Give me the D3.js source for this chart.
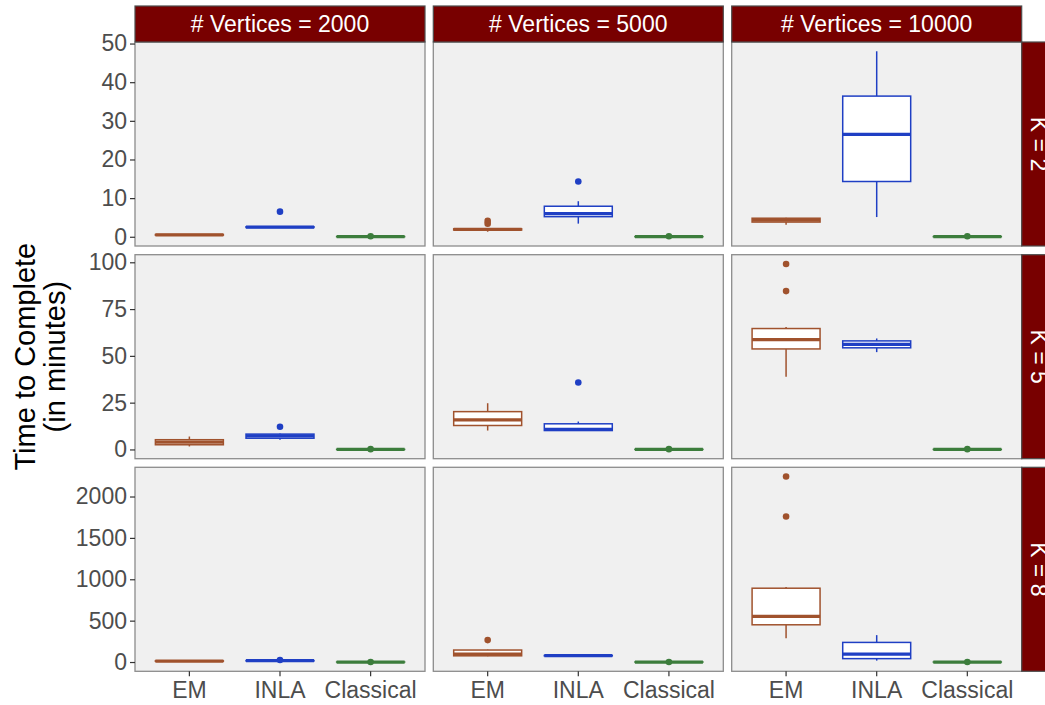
<!DOCTYPE html>
<html>
<head>
<meta charset="utf-8">
<script src="https://cdn.jsdelivr.net/npm/d3@7"></script>
<style>
  html, body { margin: 0; padding: 0; background: #ffffff; }
  svg { display: block; font-family: "Liberation Sans", Arial, Helvetica, sans-serif; }
</style>
</head>
<body>
<svg id="chart" width="1045" height="705"></svg>
<script>
// Facet definitions
const vertexCounts = [2000, 5000, 10000];
const kValues = [2, 5, 8];
const methods = ["EM", "INLA", "Classical"];
const methodColors = ["#A0522D", "#1F3FC4", "#3C7D3C"];

// Y tick values, one list per K row
const yTicksK2 = [0, 10, 20, 30, 40, 50];
const yTicksK5 = [0, 25, 50, 75, 100];
const yTicksK8 = [0, 500, 1000, 1500, 2000];

// Box statistics in minutes: [lower whisker, Q1, median, Q3, upper whisker]
// indexed [K row][vertex column]
const emBoxes = [
  [[0.35, 0.42, 0.5, 0.58, 0.65], [1.3, 1.75, 1.9, 2.05, 2.2], [3.1, 3.8, 4.3, 4.8, 4.9]],
  [[1.6, 2.5, 3.9, 5.2, 6.9], [10.1, 12.8, 15.8, 20.2, 24.7], [38.8, 53.7, 58.7, 64.6, 65.4]],
  [[8, 10, 12, 14, 16], [70, 75, 95, 145, 150], [286, 450, 551, 892, 908]]
];
const inlaBoxes = [
  [[2.3, 2.4, 2.5, 2.6, 2.7], [3.4, 5.2, 6.0, 7.9, 9.2], [5.1, 14.3, 26.5, 36.4, 48.0]],
  [[5.2, 6.0, 7.3, 8.2, 8.5], [10.0, 10.1, 10.8, 13.7, 14.9], [52.0, 54.3, 56.1, 58.0, 59.3]],
  [[12, 14, 16, 18, 19], [73, 75, 77, 79, 81], [17, 41, 96, 237, 325]]
];
const classicalBoxes = [
  [[0.01, 0.02, 0.03, 0.04, 0.05], [0.01, 0.02, 0.03, 0.04, 0.05], [0.01, 0.02, 0.03, 0.04, 0.05]],
  [[0.01, 0.02, 0.03, 0.04, 0.05], [0.01, 0.02, 0.03, 0.04, 0.05], [0.01, 0.02, 0.03, 0.04, 0.05]],
  [[0.01, 0.02, 0.03, 0.04, 0.05], [0.01, 0.02, 0.03, 0.04, 0.05], [0.01, 0.02, 0.03, 0.04, 0.05]]
];

// Outlying runs, indexed [K row][vertex column]
const emOutliers = [
  [[], [4.1, 3.4], []],
  [[], [], [99.1, 84.6]],
  [[], [265], [2241, 1759]]
];
const inlaOutliers = [
  [[6.5], [14.3], []],
  [[12.1], [35.8], []],
  [[24], [], []]
];
const classicalOutliers = [
  [[0.15], [0.15], [0.15]],
  [[0.15], [0.15], [0.15]],
  [[0.15], [0.15], [0.15]]
];

const yTicksByRow = [yTicksK2, yTicksK5, yTicksK8];
const boxesByMethod = [emBoxes, inlaBoxes, classicalBoxes];
const outliersByMethod = [emOutliers, inlaOutliers, classicalOutliers];

// Layout
const panelLefts = [135, 433.3, 731.7];
const panelWidth = 290;
const panelTops = [42, 254.7, 467.3];
const panelHeight = 204;
const stripHeight = 36;
const stripWidth = 36;
const tickFont = 23;

const svg = d3.select("#chart");

// Discrete x positions: categories 1..3 with 0.6 units of padding on each side
const x = d3.scaleLinear().domain([0.4, 3.6]).range([0, panelWidth]);
const xPos = m => x(methods.indexOf(m) + 1);
const boxWidth = x(1.75) - x(1);

kValues.forEach((k, r) => {
  // Row-wise free y scale with 5% padding on each side of the data range
  const vals = [];
  methods.forEach((m, mi) => {
    vertexCounts.forEach((v, c) => {
      vals.push(...boxesByMethod[mi][r][c], ...outliersByMethod[mi][r][c]);
    });
  });
  const lo = d3.min(vals), hi = d3.max(vals);
  const pad = (hi - lo) * 0.05;
  const y = d3.scaleLinear().domain([lo - pad, hi + pad]).range([panelHeight, 0]);

  vertexCounts.forEach((v, c) => {
    const g = svg.append("g").attr("transform", `translate(${panelLefts[c]},${panelTops[r]})`);

    g.append("rect")
      .attr("width", panelWidth).attr("height", panelHeight)
      .attr("fill", "#F0F0F0");

    methods.forEach((m, mi) => {
      const s = boxesByMethod[mi][r][c];
      const col = methodColors[mi];
      const cx = xPos(m);
      const mg = g.append("g");
      // whiskers
      mg.append("line").attr("x1", cx).attr("x2", cx)
        .attr("y1", y(s[3])).attr("y2", y(s[4]))
        .attr("stroke", col).attr("stroke-width", 1.5);
      mg.append("line").attr("x1", cx).attr("x2", cx)
        .attr("y1", y(s[1])).attr("y2", y(s[0]))
        .attr("stroke", col).attr("stroke-width", 1.5);
      // box
      mg.append("rect")
        .attr("x", cx - boxWidth / 2).attr("width", boxWidth)
        .attr("y", y(s[3])).attr("height", Math.max(0, y(s[1]) - y(s[3])))
        .attr("fill", "#ffffff").attr("stroke", col).attr("stroke-width", 1.5);
      // median
      mg.append("line")
        .attr("x1", cx - boxWidth / 2).attr("x2", cx + boxWidth / 2)
        .attr("y1", y(s[2])).attr("y2", y(s[2]))
        .attr("stroke", col).attr("stroke-width", 3.2);
      // outliers
      mg.selectAll("circle").data(outliersByMethod[mi][r][c]).join("circle")
        .attr("cx", cx).attr("cy", d => y(d)).attr("r", 3.3)
        .attr("fill", col);
    });

    g.append("rect")
      .attr("width", panelWidth).attr("height", panelHeight)
      .attr("fill", "none").attr("stroke", "#8C8C8C").attr("stroke-width", 1.3);

    // y axis on the first column
    if (c === 0) {
      const ay = g.append("g").call(
        d3.axisLeft(y).tickValues(yTicksByRow[r]).tickFormat(d3.format("d")).tickSize(5).tickPadding(3)
      );
      ay.select(".domain").remove();
      ay.selectAll(".tick line").attr("stroke", "#333333").attr("stroke-width", 1.2);
      ay.selectAll(".tick text").attr("fill", "#4D4D4D").attr("font-size", tickFont)
        .attr("font-family", "Liberation Sans, Arial, sans-serif");
    }

    // x axis on the bottom row
    if (r === kValues.length - 1) {
      const ax = g.append("g").attr("transform", `translate(0,${panelHeight})`);
      methods.forEach(m => {
        ax.append("line").attr("x1", xPos(m)).attr("x2", xPos(m))
          .attr("y1", 0).attr("y2", 5).attr("stroke", "#333333").attr("stroke-width", 1.2);
        ax.append("text").attr("x", xPos(m)).attr("y", 27)
          .attr("text-anchor", "middle").attr("fill", "#4D4D4D").attr("font-size", tickFont)
          .text(m);
      });
    }

    // column strip
    if (r === 0) {
      svg.append("rect")
        .attr("x", panelLefts[c]).attr("y", panelTops[0] - stripHeight)
        .attr("width", panelWidth).attr("height", stripHeight)
        .attr("fill", "#780000").attr("stroke", "#4D4D4D").attr("stroke-width", 1.2);
      svg.append("text")
        .attr("x", panelLefts[c] + panelWidth / 2).attr("y", panelTops[0] - stripHeight / 2)
        .attr("dy", "0.36em").attr("text-anchor", "middle")
        .attr("fill", "#ffffff").attr("font-size", 23)
        .text(`# Vertices = ${v}`);
    }
  });

  // row strip
  const sx = panelLefts[2] + panelWidth;
  svg.append("rect")
    .attr("x", sx).attr("y", panelTops[r])
    .attr("width", stripWidth).attr("height", panelHeight)
    .attr("fill", "#780000").attr("stroke", "#4D4D4D").attr("stroke-width", 1.2);
  svg.append("text")
    .attr("transform", `translate(${sx + stripWidth / 2},${panelTops[r] + panelHeight / 2}) rotate(90)`)
    .attr("dy", "0.36em").attr("text-anchor", "middle")
    .attr("fill", "#ffffff").attr("font-size", 23)
    .text(`K = ${k}`);
});

// y axis title
const midY = (panelTops[0] + panelTops[2] + panelHeight) / 2;
svg.append("text")
  .attr("transform", `translate(25,${midY}) rotate(-90)`)
  .attr("dy", "0.36em").attr("text-anchor", "middle")
  .attr("fill", "#000000").attr("font-size", 29)
  .text("Time to Complete");
svg.append("text")
  .attr("transform", `translate(55,${midY}) rotate(-90)`)
  .attr("dy", "0.36em").attr("text-anchor", "middle")
  .attr("fill", "#000000").attr("font-size", 29)
  .text("(in minutes)");
</script>
</body>
</html>
